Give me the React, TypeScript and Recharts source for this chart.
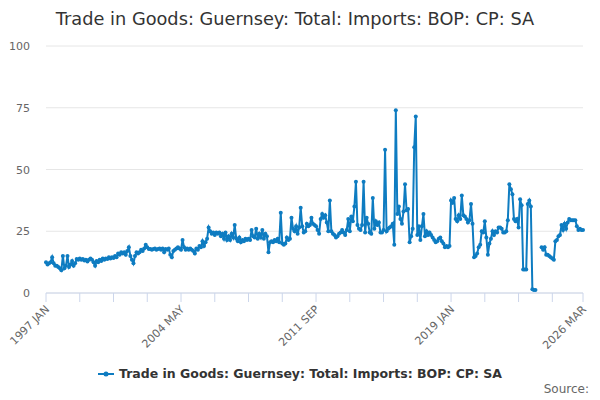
import { CartesianGrid, Line, LineChart, XAxis, YAxis } from "recharts";

const START_YEAR = 1997;
const MONTHS = ["JAN", "FEB", "MAR", "APR", "MAY", "JUN", "JUL", "AUG", "SEP", "OCT", "NOV", "DEC"];

// monthly values
const imports1997to2003 = [
  12.5, 11.5, 12, 12.5, 14.5, 12, 11, 11, 10.5, 10, 9.2, 15,
  10, 11, 15, 10.5, 11.5, 13, 11, 12, 13.8, 13.5, 14, 13.5,
  13.8, 13.2, 13.5, 12.8, 13.5, 14, 13.5, 12.5, 11, 13, 12.5, 13.5,
  13, 14, 13.5, 14, 13.8, 14.5, 14, 14.5, 14.2, 15, 14.5, 16,
  15.5, 16.5, 16, 16.5, 15.5, 17, 18.5, 15, 13.5, 12, 15, 16.5,
  16, 16.5, 17.5, 17, 18, 19.5, 18.5, 17.8, 17.8, 17.5, 17.8, 18,
  17.5, 17.8, 18, 17.5, 18, 16.5, 17.8, 17.5, 18, 15.5, 14.5, 17,
];
const imports2004to2010 = [
  17.5, 18, 18.5, 18, 17.5, 21.5, 18.5, 17.5, 18, 17.5, 18, 17.5,
  17, 16, 18, 17.5, 19, 18.5, 21, 19, 20.5, 22, 26.5, 25,
  24, 24.5, 23.5, 24.5, 24, 24.5, 23, 24, 22, 24.5, 21.5, 23,
  21.5, 24, 22.5, 27.5, 22, 21, 22.5, 20.5, 21.5, 21, 22, 21.5,
  22, 21.5, 25.5, 23, 22.5, 26, 22, 24, 22.5, 25.5, 22, 24,
  23, 16.5, 20.5, 21, 20.5, 21.5, 21, 22, 20.5, 32.5, 20, 19.5,
  20, 22.5, 21.5, 22, 30.5, 26, 25, 27, 24, 26.5, 34.5, 27,
];
const imports2011to2017 = [
  24.5, 25, 28, 27, 27.5, 30.5, 28, 27.5, 27, 25.5, 24, 30,
  32, 30.5, 31.5, 28.5, 25, 37.5, 25, 24, 23.5, 22.5, 23, 24,
  24.5, 25.5, 24.5, 23.5, 25.5, 30, 25, 31, 29, 35, 45, 27.5,
  26, 25.5, 27.5, 45, 24.5, 30.5, 28, 24.5, 24, 38.5, 26, 29,
  27.5, 28.5, 24.5, 24.5, 25.5, 58, 25, 26, 26.5, 27, 28, 19.5,
  74, 32, 35, 30, 28, 33, 44, 33.5, 34, 20.5, 23, 26,
  59, 71.5, 23.5, 27, 21.5, 27, 32, 23, 25, 23.5, 24.5, 23.5,
];
const imports2018to2026 = [
  22.5, 21.5, 20.5, 21, 22, 22.5, 21, 20, 18.5, 19, 18.5, 19,
  37.5, 36.5, 38.5, 30, 29, 31.5, 30, 39.5, 31.5, 31, 30, 28.5,
  29.5, 36, 28, 14.5, 15, 16, 18.5, 19.5, 25, 24.5, 29, 22.5,
  15.5, 20, 22, 25, 23.5, 25, 24.5, 26.5, 26.5, 26, 24.5, 24.5,
  25, 29.5, 44, 42, 40, 30, 29, 30, 26.5, 38, 35.5, 9.5,
  9.5, 9.5, 36, 37.5, 35, 1.5, 1.2, 1.2, null, null, null, 18.5,
  17.5, 18.5, 15.5, 15.5, 15, 14.5, 14, 13.5, 21, 21.5, 23, 23.5,
  27.5, 25.5, 28, 26, 28.5, 30, 29.5, 29.5, 29.5, 29.5, 27, 25.5,
  26, 25.5, 25.5,
];

const importsValues: (number | null)[] = [
  ...imports1997to2003,
  ...imports2004to2010,
  ...imports2011to2017,
  ...imports2018to2026,
];
const monthLabels = importsValues.map(
  (_, i) => `${START_YEAR + Math.floor(i / 12)} ${MONTHS[i % 12]}`
);
const labelledTicks = ["1997 JAN", "2004 MAY", "2011 SEP", "2019 JAN", "2026 MAR"];
const tickMarks = monthLabels.filter((_, i) => i % 22 === 0 || i === monthLabels.length - 1);
const yTicks = [0, 25, 50, 75, 100];

const data = monthLabels.map((month, i) => ({ month, value: importsValues[i] }));

const TITLE = "Trade in Goods: Guernsey: Total: Imports: BOP: CP: SA";
const LINE = "#0e7cc1";
const FONT = "DejaVu Sans, sans-serif";

function MonthTick({ x, y, payload }: any) {
  if (!labelledTicks.includes(payload.value)) return null;
  const tx = x + 4;
  const ty = y + 6;
  return (
    <text
      x={tx}
      y={ty}
      textAnchor="end"
      fontSize={11}
      fontFamily={FONT}
      fill="#666666"
      transform={`rotate(-45 ${tx} ${ty})`}
    >
      {payload.value}
    </text>
  );
}

function ValueTick({ x, y, payload }: any) {
  return (
    <text x={x} y={y + 4} textAnchor="end" fontSize={11} fontFamily={FONT} fill="#666666">
      {payload.value}
    </text>
  );
}

export default function App() {
  return (
    <div style={{ position: "absolute", left: 0, top: 0, width: 600, height: 400, background: "#fff" }}>
      <LineChart width={600} height={400} data={data} margin={{ top: 46, right: 17, bottom: 47, left: 0 }}>
        <CartesianGrid vertical={false} stroke="#e6e6e6" />
        <XAxis
          dataKey="month"
          ticks={tickMarks}
          interval={0}
          tick={<MonthTick />}
          tickSize={9}
          tickMargin={2}
          height={60}
          axisLine={{ stroke: "#ccd6eb" }}
          tickLine={{ stroke: "#ccd6eb" }}
        />
        <YAxis
          domain={[0, 100]}
          ticks={yTicks}
          width={46}
          axisLine={false}
          tickLine={false}
          tickSize={0}
          tickMargin={16}
          tick={<ValueTick />}
        />
        <Line
          dataKey="value"
          stroke={LINE}
          strokeWidth={2}
          dot={{ r: 2, fill: LINE, stroke: LINE, strokeWidth: 0 }}
          isAnimationActive={false}
        />
      </LineChart>
      <svg width={600} height={400} style={{ position: "absolute", left: 0, top: 0, pointerEvents: "none" }}>
        <text x={295} y={25} textAnchor="middle" fontSize={17.75} fontFamily={FONT} fill="#333333">
          {TITLE}
        </text>
        <line x1={98} x2={114} y1={374} y2={374} stroke={LINE} strokeWidth={2} />
        <circle cx={106} cy={374} r={2.5} fill={LINE} />
        <text x={119} y={378} fontSize={12.5} fontWeight="bold" fontFamily={FONT} fill="#333333">
          {TITLE}
        </text>
        <text x={589} y={393} textAnchor="end" fontSize={12} fontFamily={FONT} fill="#666666">
          Source:
        </text>
      </svg>
    </div>
  );
}
